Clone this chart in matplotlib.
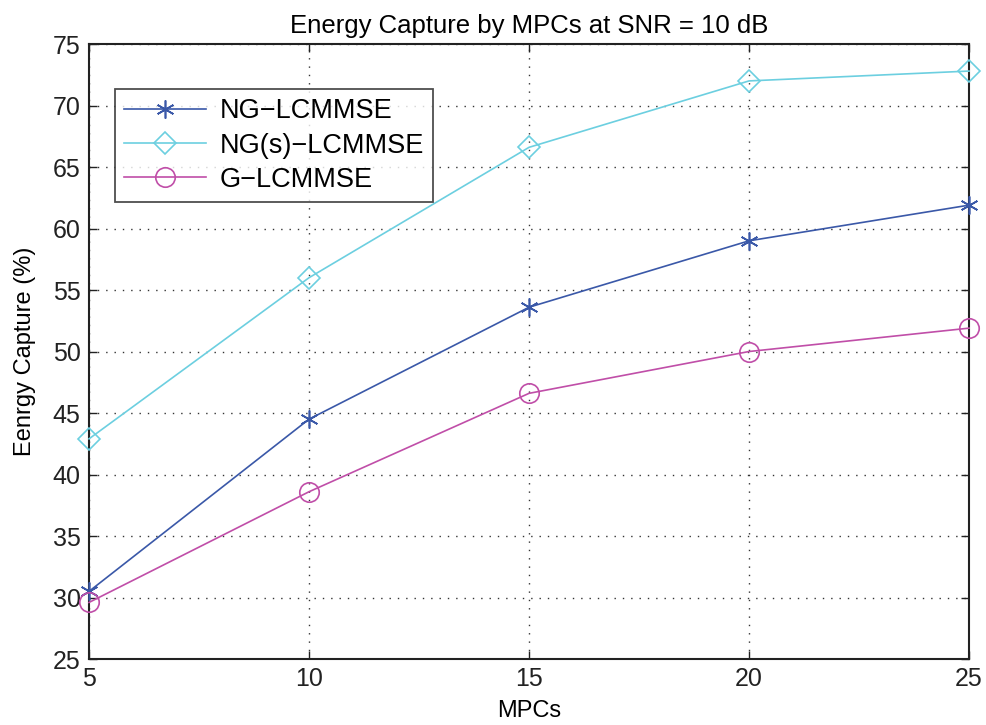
import matplotlib
matplotlib.use("Agg")
import matplotlib.pyplot as plt

plt.rcParams['font.family'] = ['Liberation Sans', 'DejaVu Sans']

mpcs = [5, 10, 15, 20, 25]
ng_lcmmse = [30.5, 44.5, 53.6, 59.0, 61.9]
ngs_lcmmse = [42.9, 56.0, 66.6, 72.0, 72.8]
g_lcmmse = [29.6, 38.6, 46.6, 50.0, 51.9]
xticks = [5, 10, 15, 20, 25]
yticks = [25, 30, 35, 40, 45, 50, 55, 60, 65, 70, 75]

fig = plt.figure(figsize=(9.87, 7.25), dpi=100)
ax = fig.add_axes([0.0902, 0.0910, 0.8916, 0.8483])

c1 = '#3a58a8'
c2 = '#6ccfe0'
c3 = '#c04ea8'
ax.plot(mpcs, ng_lcmmse, color=c1, lw=1.2, marker=(6, 2, 0), ms=13, mew=1.2, label='NG\u2212LCMMSE', clip_on=False, zorder=3)
ax.plot(mpcs, ngs_lcmmse, color=c2, lw=1.2, marker='D', ms=11, mfc='none', mew=1.2, label='NG(s)\u2212LCMMSE', clip_on=False, zorder=3)
ax.plot(mpcs, g_lcmmse, color=c3, lw=1.2, marker='o', ms=14, mfc='none', mew=1.2, label='G\u2212LCMMSE', clip_on=False, zorder=3)

ax.set_xlim(5, 25)
ax.set_ylim(25, 75)
ax.set_xticks(xticks)
ax.set_yticks(yticks)
ax.tick_params(direction='in', top=True, right=True, length=6, width=1, labelsize=18, pad=6, colors='#222222')
ax.grid(True, linestyle=(0, (1, 5)), color='#333333', linewidth=1.0)
for s in ax.spines.values():
    s.set_linewidth(1.5)
    s.set_color('#222222')

ax.set_title('Energy Capture by MPCs at SNR = 10 dB', fontsize=18.5, pad=8)
ax.set_xlabel('MPCs', fontsize=17, labelpad=6)
ax.set_ylabel('Eenrgy Capture (%)', fontsize=17, labelpad=12)

leg = ax.legend(loc='upper left', bbox_to_anchor=(0.0295, 0.927), fontsize=19.5, frameon=True,
                fancybox=False, edgecolor='#222222', handlelength=3.0, borderpad=0.35,
                labelspacing=0.3, handletextpad=0.5, borderaxespad=0)
leg.get_frame().set_linewidth(1.3)

fig.savefig('out.png', dpi=100)
